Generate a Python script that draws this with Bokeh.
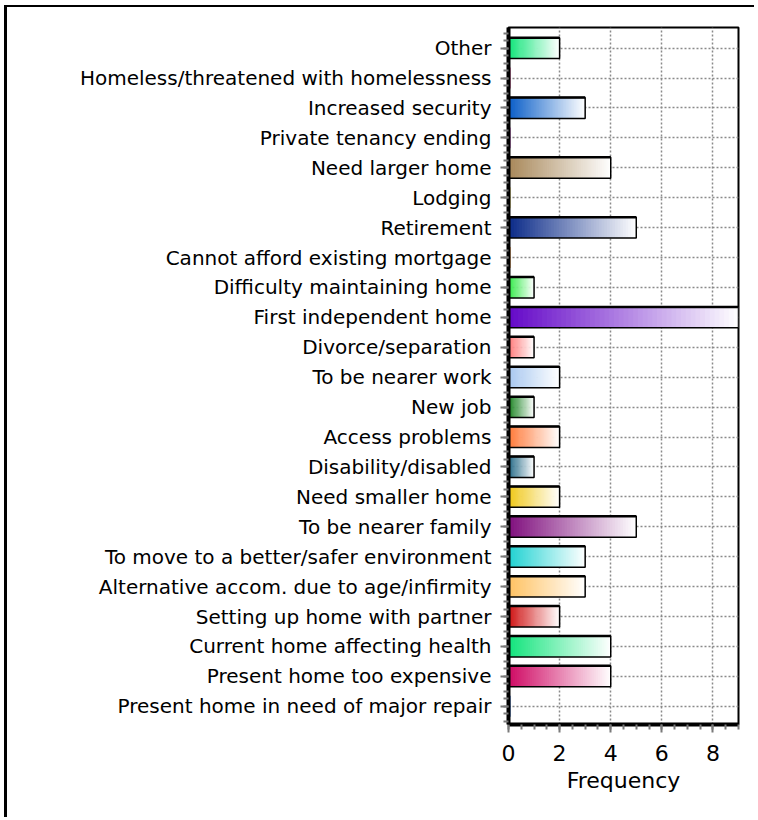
from bokeh.plotting import figure
from bokeh.models import FixedTicker, Range1d, ColumnDataSource
from bokeh.embed import file_html
from bokeh.resources import INLINE

# ---- data (top to bottom as drawn) ----
categories = [
    "Other",
    "Homeless/threatened with homelessness",
    "Increased security",
    "Private tenancy ending",
    "Need larger home",
    "Lodging",
    "Retirement",
    "Cannot afford existing mortgage",
    "Difficulty maintaining home",
    "First independent home",
    "Divorce/separation",
    "To be nearer work",
    "New job",
    "Access problems",
    "Disability/disabled",
    "Need smaller home",
    "To be nearer family",
    "To move to a better/safer environment",
    "Alternative accom. due to age/infirmity",
    "Setting up home with partner",
    "Current home affecting health",
    "Present home too expensive",
    "Present home in need of major repair",
]
frequency = [2, 0, 3, 0, 4, 0, 5, 0, 1, 9, 1, 2, 1, 2, 1, 2, 5, 3, 3, 2, 4, 4, 0]
x_ticks = [0, 2, 4, 6, 8]

# ---- styles ----
bar_colors = [
    "#12e57a", "#c0307a", "#0a5ec8", "#b040b0", "#a8885a", "#d8c850",
    "#0a2a88", "#e08020", "#22e83a", "#6408c8", "#ff7070", "#a8c8f0",
    "#0a7a12", "#ff7a3a", "#145f7e", "#f0c818", "#80107e", "#20d2d2",
    "#ffc262", "#d01414", "#12e47c", "#d00a64", "#2060c0",
]

n = len(categories)
ypos = [n - 1 - i for i in range(n)]


def mix(c, t):
    r, g, b = int(c[1:3], 16), int(c[3:5], 16), int(c[5:7], 16)
    r = round(r + (255 - r) * t)
    g = round(g + (255 - g) * t)
    b = round(b + (255 - b) * t)
    return "#%02x%02x%02x" % (r, g, b)


W, H = 750, 812
p = figure(
    width=W, height=H, output_backend="svg", toolbar_location=None,
    x_range=Range1d(0, 9), y_range=Range1d(-0.61, n - 1 + 0.69),
    min_border_left=501, min_border_right=19, min_border_top=20, min_border_bottom=95,
)
p.styles = {"border-left": "3px solid black", "border-top": "2px solid black",
            "margin-left": "4px", "margin-top": "5px"}

BH = 0.7
N = 48
sl_left, sl_right, sl_y, sl_col = [], [], [], []
for v, y, c in zip(frequency, ypos, bar_colors):
    if v <= 0:
        continue
    for k in range(N):
        sl_left.append(v * k / N)
        sl_right.append(min(v, v * (k + 1.6) / N))
        sl_y.append(y)
        sl_col.append(mix(c, (k + 0.5) / N))

p.hbar(y=sl_y, left=sl_left, right=sl_right, height=BH, fill_color=sl_col,
       line_color=None)

src = ColumnDataSource(dict(y=ypos, v=frequency, c=bar_colors,
                            top=[y + BH / 2 for y in ypos]))
p.hbar(y="y", left=0, right="v", height=BH, fill_color=None, line_color="black",
       line_width=1.5, source=src)
p.segment(x0=0, y0="top", x1="v", y1="top", line_color="black", line_width=2.5,
          source=src)
zsrc = ColumnDataSource(dict(y=[y for y, v in zip(ypos, frequency) if v == 0],
                             c=[c for c, v in zip(bar_colors, frequency) if v == 0]))
p.hbar(y="y", left=0, right=0.08, height=BH, fill_color="c", line_color=None,
       source=zsrc)

# axes
p.xaxis.ticker = FixedTicker(ticks=x_ticks,
                             minor_ticks=[i * 0.5 for i in range(0, 19)])
p.xaxis.axis_label = "Frequency"
p.xaxis.axis_label_text_font = "DejaVu Sans"
p.xaxis.axis_label_text_font_size = "22px"
p.xaxis.axis_label_text_font_style = "normal"
p.xaxis.axis_label_text_color = "black"
p.xaxis.axis_label_standoff = 4
p.xaxis.major_label_text_font = "DejaVu Sans"
p.xaxis.major_label_text_font_size = "22px"
p.xaxis.major_label_text_color = "black"
p.xaxis.major_label_standoff = 12

p.yaxis.ticker = FixedTicker(ticks=ypos,
                             minor_ticks=[i * 0.25 - 0.5 for i in range(0, 4 * n + 1)])
p.yaxis.major_label_overrides = {y: c for y, c in zip(ypos, categories)}
p.yaxis.major_label_text_font = "DejaVu Sans"
p.yaxis.major_label_text_font_size = "20px"
p.yaxis.major_label_text_color = "black"
p.yaxis.major_label_standoff = 9

for ax in (p.xaxis[0], p.yaxis[0]):
    ax.axis_line_color = "black"
    ax.axis_line_width = 4
    ax.major_tick_line_color = "#7a7a7a"
    ax.major_tick_line_width = 2
    ax.major_tick_out = 8
    ax.major_tick_in = 0
    ax.minor_tick_line_color = "#7a7a7a"
    ax.minor_tick_line_width = 2
    ax.minor_tick_out = 5
    ax.minor_tick_in = 0

p.xgrid.ticker = FixedTicker(ticks=[2, 4, 6, 8])
p.ygrid.ticker = FixedTicker(ticks=ypos)
for g in (p.xgrid[0], p.ygrid[0]):
    g.grid_line_color = "#8a8a8a"
    g.grid_line_width = 1.5
    g.grid_line_dash = "2 2"

p.outline_line_color = "black"
p.outline_line_width = 2
p.background_fill_color = "white"
p.border_fill_color = "white"

open("out.html", "w").write(file_html(p, INLINE))
